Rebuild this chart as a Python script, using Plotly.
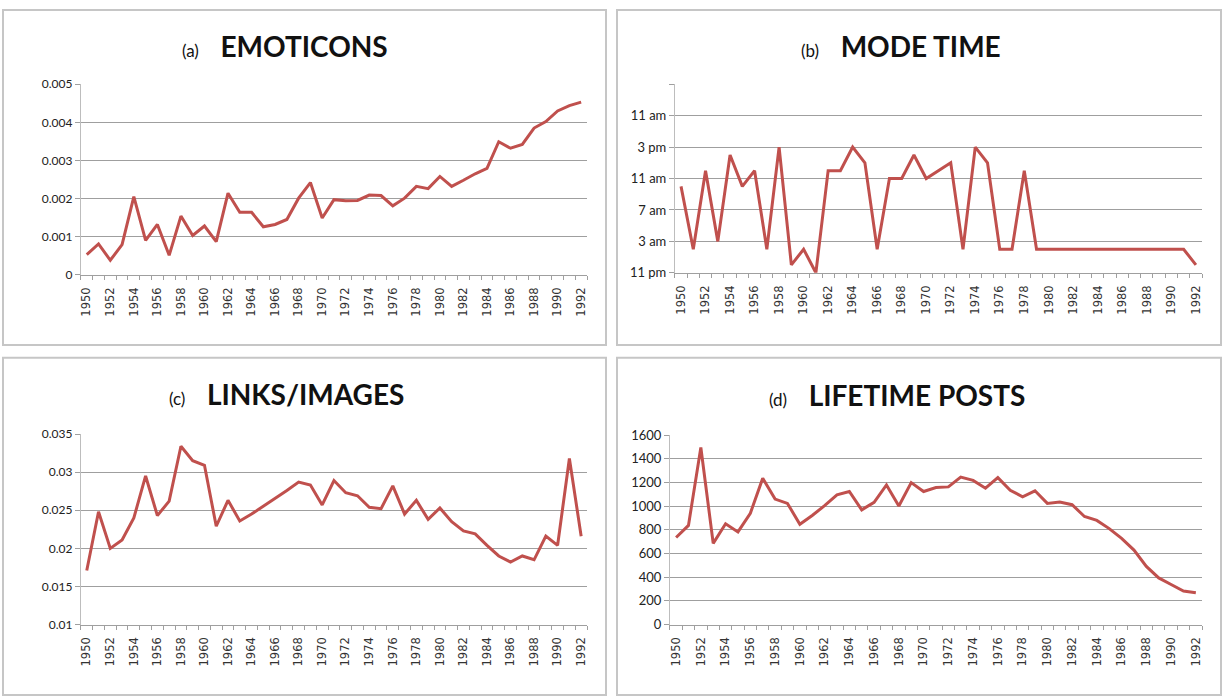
import plotly.graph_objects as go

# ---------------- data ----------------
years = list(range(1950, 1993))

emoticons = [0.00053, 0.00081, 0.00038, 0.00079, 0.00205, 0.00090, 0.00132, 0.00051,
             0.00154, 0.00103, 0.00128, 0.00087, 0.00214, 0.00164, 0.00164, 0.00126,
             0.00132, 0.00145, 0.00201, 0.00242, 0.00149, 0.00197, 0.00194, 0.00195,
             0.00209, 0.00208, 0.00181, 0.00201, 0.00232, 0.00226, 0.00258, 0.00232,
             0.00248, 0.00265, 0.00279, 0.00349, 0.00332, 0.00342, 0.00385, 0.00402,
             0.00430, 0.00444, 0.00453]

# hours after 11 pm
mode_time = [11, 3, 13, 4, 15, 11, 13, 3, 16, 1, 3, 0, 13, 13, 16, 14, 3, 12, 12, 15,
             12, 13, 14, 3, 16, 14, 3, 3, 13, 3, 3, 3, 3, 3, 3, 3, 3, 3, 3, 3, 3, 3, 1]
mode_time_ticks = [0, 4, 8, 12, 16, 20, 24]
mode_time_labels = ["11 pm", "3 am", "7 am", "11 am", "3 pm", "11 am", ""]

links_images = [0.0171, 0.0248, 0.0200, 0.0211, 0.0240, 0.0295, 0.0243, 0.0262,
                0.0334, 0.0315, 0.0309, 0.0229, 0.0263, 0.0236, 0.0245, 0.0255,
                0.0265, 0.0276, 0.0287, 0.0283, 0.0257, 0.0289, 0.0273, 0.0269,
                0.0254, 0.0252, 0.0282, 0.0245, 0.0263, 0.0238, 0.0253, 0.0235,
                0.0223, 0.0219, 0.0204, 0.0190, 0.0182, 0.0190, 0.0185, 0.0216,
                0.0204, 0.0318, 0.0216]

lifetime_posts = [735, 837, 1495, 685, 851, 782, 940, 1234, 1059, 1023, 846, 921,
                  1004, 1095, 1123, 968, 1032, 1179, 1001, 1198, 1123, 1156, 1162,
                  1245, 1217, 1151, 1240, 1134, 1079, 1129, 1023, 1034, 1012, 912,
                  879, 810, 727, 629, 491, 394, 338, 283, 269]

emo_ticks = [0, 0.001, 0.002, 0.003, 0.004, 0.005]
emo_labels = ["0", "0.001", "0.002", "0.003", "0.004", "0.005"]
link_ticks = [0.01, 0.015, 0.02, 0.025, 0.03, 0.035]
link_labels = ["0.01", "0.015", "0.02", "0.025", "0.03", "0.035"]
post_ticks = [0, 200, 400, 600, 800, 1000, 1200, 1400, 1600]
post_labels = [str(v) for v in post_ticks]

x_label_years = list(range(1950, 1993, 2))

# ---------------- layout helpers ----------------
W, H = 1225, 700
def fx(p): return p / W
def fy(p): return 1 - p / H

LINE = "#c0504d"
GRID = "#9f9f9f"
AXIS = "#bdbdbd"
FONT = "Lato"

panels = [
    dict(letter="(a)", title="EMOTICONS", y=emoticons, tv=emo_ticks, tt=emo_labels,
         rng=[0, 0.005], box=(80, 587, 78, 273), tcx=284, tcy=39, ysize=12),
    dict(letter="(b)", title="MODE TIME", y=mode_time, tv=mode_time_ticks, tt=mode_time_labels,
         rng=[0, 24], box=(675, 1203, 78, 271), tcx=901, tcy=39, ysize=13),
    dict(letter="(c)", title="LINKS/IMAGES", y=links_images, tv=link_ticks, tt=link_labels,
         rng=[0.01, 0.035], box=(80, 587, 436, 631), tcx=286, tcy=395, ysize=12),
    dict(letter="(d)", title="LIFETIME POSTS", y=lifetime_posts, tv=post_ticks, tt=post_labels,
         rng=[0, 1600], box=(670, 1203, 437, 631), tcx=897, tcy=396, ysize=13),
]

fig = go.Figure()
layout = dict(
    width=W, height=H, margin=dict(l=0, r=0, t=0, b=0),
    paper_bgcolor="white", plot_bgcolor="white", showlegend=False,
    font=dict(family=FONT, color="#222"),
)
annotations = []
shapes = []

for i, p in enumerate(panels, start=1):
    sfx = "" if i == 1 else str(i)
    x0, x1, y0, y1 = p["box"]
    fig.add_trace(go.Scatter(x=years, y=p["y"], mode="lines",
                             line=dict(color=LINE, width=3),
                             xaxis="x" + sfx, yaxis="y" + sfx, hoverinfo="skip"))
    layout["xaxis" + sfx] = dict(
        domain=[fx(x0), fx(x1)], anchor="y" + sfx, range=[1949.5, 1992.5],
        tickmode="array", tickvals=x_label_years, ticktext=[str(v) for v in x_label_years],
        tickangle=-90, ticks="", showgrid=False, zeroline=False,
        showline=True, linecolor=GRID, linewidth=1,
        tickfont=dict(family="DejaVu Sans", size=11.5, color="#333"),
        ticklabelstandoff=7,
        minor=dict(ticks="outside", ticklen=4, tickcolor=GRID, tickwidth=1,
                   tick0=1949.5, dtick=1, showgrid=False),
        fixedrange=True,
    )
    layout["yaxis" + sfx] = dict(
        domain=[fy(y1), fy(y0)], anchor="x" + sfx, range=p["rng"],
        tickmode="array", tickvals=p["tv"], ticktext=p["tt"],
        showgrid=True, gridcolor=GRID, gridwidth=1.3, zeroline=False,
        showline=True, linecolor=AXIS, linewidth=1,
        ticks="outside", ticklen=5, tickcolor=GRID,
        tickfont=dict(family=FONT, size=p["ysize"], color="#222"),
        fixedrange=True,
    )
    annotations.append(dict(
        x=fx(p["tcx"]), y=fy(p["tcy"]), xref="paper", yref="paper",
        xanchor="center", yanchor="middle", showarrow=False,
        text=f"<span style='font-size:17px;font-weight:normal'>{p['letter']}</span>"
             f"&nbsp;&nbsp;&nbsp;<b>{p['title']}</b>",
        font=dict(family=FONT, size=28, color="#111"),
    ))

# panel frames
for (a, b, c, d) in [(2, 606, 2, 345), (617, 1222, 2, 345), (2, 606, 358, 703), (617, 1222, 358, 703)]:
    shapes.append(dict(type="rect", xref="paper", yref="paper",
                       x0=fx(a), x1=fx(b), y0=fy(d), y1=fy(c),
                       line=dict(color="#c6c6c6", width=2), layer="below"))

layout["annotations"] = annotations
layout["shapes"] = shapes
fig.update_layout(**layout)
fig.write_html("out.html", config={"displayModeBar": False},
               post_script="document.body.style.margin='0';document.body.style.overflow='hidden';")
